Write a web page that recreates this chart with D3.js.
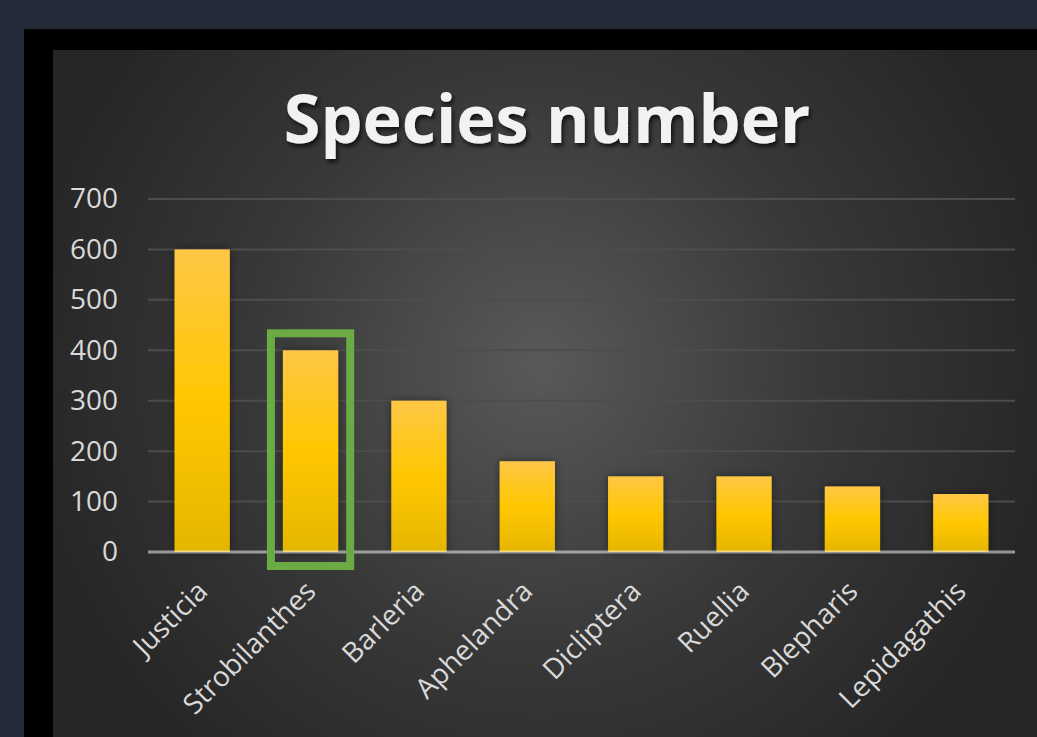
<!DOCTYPE html>
<html>
<head>
<meta charset="utf-8">
<script src="https://cdn.jsdelivr.net/npm/d3@7"></script>
<style>
  html, body { margin: 0; padding: 0; background: #232a38; overflow: hidden; }
  svg { display: block; }
</style>
</head>
<body>
<div id="chart"></div>
<script>
// chart data
const genera = ['Justicia', 'Strobilanthes', 'Barleria', 'Aphelandra', 'Dicliptera', 'Ruellia', 'Blepharis', 'Lepidagathis']
const speciesCount = [600, 400, 300, 180, 150, 150, 130, 115]
const yTicks = [0, 100, 200, 300, 400, 500, 600, 700]
const title = 'Species number'
const highlighted = 'Strobilanthes'

const width = 1037
const height = 737
const font = "'Open Sans', 'Noto Sans', sans-serif"

const svg = d3.select('#chart').append('svg').attr('width', width).attr('height', height)
const defs = svg.append('defs')

// radial background of the chart area
const bg = defs.append('radialGradient').attr('id', 'bgGrad')
  .attr('gradientUnits', 'userSpaceOnUse')
  .attr('cx', 540).attr('cy', 365).attr('r', 520)
bg.append('stop').attr('offset', '0%').attr('stop-color', '#595959')
bg.append('stop').attr('offset', '55%').attr('stop-color', '#383838')
bg.append('stop').attr('offset', '100%').attr('stop-color', '#262626')

// bar fill
const barGrad = defs.append('linearGradient').attr('id', 'barGrad')
  .attr('x1', 0).attr('y1', 0).attr('x2', 0).attr('y2', 1)
barGrad.append('stop').attr('offset', '0%').attr('stop-color', '#ffc746')
barGrad.append('stop').attr('offset', '50%').attr('stop-color', '#ffc700')
barGrad.append('stop').attr('offset', '100%').attr('stop-color', '#e5b600')

const shadow = defs.append('filter').attr('id', 'barShadow')
  .attr('x', '-30%').attr('y', '-10%').attr('width', '160%').attr('height', '120%')
shadow.append('feDropShadow').attr('dx', 0).attr('dy', 0).attr('stdDeviation', 4)
  .attr('flood-color', '#000').attr('flood-opacity', 0.45)

const titleShadow = defs.append('filter').attr('id', 'titleShadow')
  .attr('x', '-10%').attr('y', '-20%').attr('width', '120%').attr('height', '150%')
titleShadow.append('feDropShadow').attr('dx', 2).attr('dy', 3).attr('stdDeviation', 2)
  .attr('flood-color', '#000').attr('flood-opacity', 0.7)

// frame
svg.append('rect').attr('x', 24).attr('y', 29).attr('width', width).attr('height', height).attr('fill', '#000')
svg.append('rect').attr('x', 53).attr('y', 50).attr('width', width).attr('height', height).attr('fill', 'url(#bgGrad)')

// scales
const plot = { left: 148, right: 1015, top: 199, bottom: 552 }
const x = d3.scaleBand().domain(genera).range([plot.left, plot.right]).paddingInner(0.49).paddingOuter(0.245)
const y = d3.scaleLinear().domain([0, 700]).range([plot.bottom, plot.top])

// gridlines
svg.append('g')
  .selectAll('line')
  .data(yTicks.filter(d => d > 0))
  .enter()
  .append('line')
  .attr('x1', plot.left).attr('x2', plot.right)
  .attr('y1', d => y(d)).attr('y2', d => y(d))
  .attr('stroke', '#4d4d4d').attr('stroke-width', 2)

// y axis labels
const yAxis = svg.append('g')
  .attr('transform', `translate(${plot.left - 30},0)`)
  .call(d3.axisLeft(y).tickValues(yTicks).tickSize(0).tickPadding(0))
yAxis.select('.domain').remove()
yAxis.selectAll('text')
  .attr('fill', '#d9d9d9')
  .style('font-family', font)
  .style('font-size', '28px')

// bars
svg.append('g')
  .selectAll('rect')
  .data(genera)
  .enter()
  .append('rect')
  .attr('x', d => x(d))
  .attr('y', (d, i) => y(speciesCount[i]))
  .attr('width', x.bandwidth())
  .attr('height', (d, i) => y(0) - y(speciesCount[i]))
  .attr('fill', 'url(#barGrad)')
  .attr('filter', 'url(#barShadow)')

// baseline
svg.append('line')
  .attr('x1', plot.left).attr('x2', plot.right)
  .attr('y1', y(0)).attr('y2', y(0))
  .attr('stroke', '#ffffff').attr('stroke-opacity', 0.5).attr('stroke-width', 3)

// x labels
const xAxis = svg.append('g')
  .attr('transform', `translate(0,${y(0)})`)
  .call(d3.axisBottom(x).tickSize(0).tickPadding(0))
xAxis.select('.domain').remove()
xAxis.selectAll('text')
  .attr('fill', '#d9d9d9')
  .attr('text-anchor', 'end')
  .attr('dy', 0)
  .attr('transform', 'translate(7,41) rotate(-45)')
  .style('font-family', font)
  .style('font-size', '28px')

// highlight box around one bar
const hb = x(highlighted)
const hv = speciesCount[genera.indexOf(highlighted)]
svg.append('rect')
  .attr('x', hb - 12)
  .attr('y', y(hv) - 17)
  .attr('width', x.bandwidth() + 24)
  .attr('height', y(0) - y(hv) + 31)
  .attr('fill', 'none')
  .attr('stroke', '#6aab46')
  .attr('stroke-width', 8)

// title
svg.append('text')
  .attr('x', 547)
  .attr('y', 143)
  .attr('text-anchor', 'middle')
  .attr('fill', '#f2f2f2')
  .attr('filter', 'url(#titleShadow)')
  .style('font-family', font)
  .style('font-weight', 'bold')
  .style('font-size', '66.5px')
  .text(title)
</script>
</body>
</html>
